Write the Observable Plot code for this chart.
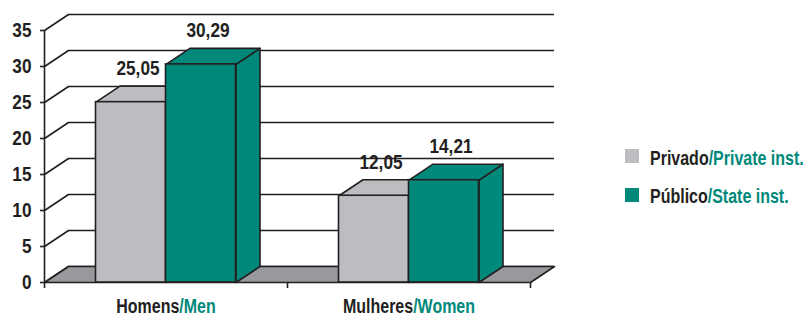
<!DOCTYPE html>
<html><head><meta charset="utf-8">
<script src="https://cdn.jsdelivr.net/npm/d3@7"></script>
<script src="https://cdn.jsdelivr.net/npm/@observablehq/plot@0.6"></script>
<style>
body{margin:0;background:#fff;}
#wrap{position:relative;width:806px;height:317px;font-family:"Liberation Sans",Arial,sans-serif;font-weight:bold;}
.leg{position:absolute;font-size:19.5px;line-height:20px;color:#231f20;white-space:nowrap;transform:scaleX(0.82);transform-origin:0 0;}
.sw{position:absolute;width:14px;height:14px;}
</style></head><body><div id="wrap"></div>
<script>
const categories = ["Homens/Men", "Mulheres/Women"];
const seriesNames = ["Privado/Private inst.", "Público/State inst."];
const privado = [25.05, 12.05];
const publico = [30.29, 14.21];
const yTicks = [0, 5, 10, 15, 20, 25, 30, 35];

const DARK = "#231f20", TEAL = "#00897b";
const colors = ["#bcbdc1", "#00897b"];
const FLOOR = "#98999c";
const FONT = '"Liberation Sans", Arial, sans-serif';
const CONDENSE = 0.82;   // horizontal squeeze to imitate a condensed face

const W = 806, H = 317, mL = 44, mR = 276, mT = 30, mB = 35;
const xPer = (W - mL - mR) / categories.length;
const yPer = (H - mT - mB) / 35;
const DX = 24 / xPer, DY = 16 / yPer;   // 3D depth in data units
const BW = 70 / xPer;                  // bar width in data units

const fmt = v => d3.format(".2f")(v).replace(".", ",");
const poly = (pts, fill) => Plot.line(pts.concat([pts[0]]).map(([x, y]) => ({x, y})),
  {x: "x", y: "y", fill, stroke: DARK, strokeWidth: 1.6, strokeLinejoin: "round", curve: "linear"});

const marks = [];
marks.push(Plot.ruleY(yTicks, {y: d => d + DY, x1: DX, x2: categories.length + DX, stroke: DARK, strokeWidth: 1.6, strokeOpacity: 1}));
marks.push(Plot.link(yTicks, {x1: 0, y1: d => d, x2: DX, y2: d => d + DY, stroke: DARK, strokeWidth: 1.6, strokeOpacity: 1}));
marks.push(poly([[0, 0], [categories.length, 0], [categories.length + DX, DY], [DX, DY]], FLOOR));
marks.push(Plot.ruleX([0], {y1: 0, y2: 35, stroke: DARK, strokeWidth: 1.6, strokeOpacity: 1}));
marks.push(Plot.axisY({ticks: yTicks, tickSize: 4, tickPadding: 9, stroke: DARK, strokeWidth: 1.6, strokeOpacity: 1, fontSize: 21, fill: DARK, label: null}));
marks.push(Plot.axisX({ticks: [0, 1, 2], tickSize: 6, tickFormat: () => "", stroke: DARK, strokeWidth: 1.6, strokeOpacity: 1, label: null}));

const labels = [];
categories.forEach((c, i) => {
  const cx = i + 0.5;
  [privado[i], publico[i]].forEach((v, s) => {
    const x1 = s === 0 ? cx - BW : cx, x2 = s === 0 ? cx : cx + BW;
    marks.push(poly([[x2, 0], [x2 + DX, DY], [x2 + DX, v + DY], [x2, v]], colors[s]));
    marks.push(poly([[x1, v], [x2, v], [x2 + DX, v + DY], [x1 + DX, v + DY]], colors[s]));
    marks.push(Plot.rect([{x1, x2, v}], {x1: "x1", x2: "x2", y1: 0, y2: "v", fill: colors[s], stroke: DARK, strokeWidth: 1.6}));
    labels.push({x: (x1 + x2) / 2, y: v + DY, t: fmt(v)});
  });
});
marks.push(Plot.text(labels, {x: "x", y: "y", text: "t", dx: 7, dy: -11, lineAnchor: "bottom", fontSize: 21, fill: DARK}));
marks.push(Plot.text(categories, {x: (d, i) => i + 0.5, y: 0, text: d => d, dy: 30, lineAnchor: "bottom", fontSize: 19.5, fill: DARK}));

const svg = Plot.plot({
  width: W, height: H, marginLeft: mL, marginRight: mR, marginTop: mT, marginBottom: mB,
  x: {type: "linear", domain: [0, categories.length]},
  y: {type: "linear", domain: [0, 35]},
  style: {fontFamily: FONT, fontWeight: "bold", fontSize: "21px", color: DARK, background: "white"},
  marks
});

const ns = "http://www.w3.org/2000/svg";
svg.querySelectorAll("text").forEach(t => {
  const s = t.textContent, k = s.indexOf("/");
  if (k >= 0) {
    t.textContent = "";
    const a = document.createElementNS(ns, "tspan"); a.textContent = s.slice(0, k); a.setAttribute("fill", DARK);
    const b = document.createElementNS(ns, "tspan"); b.textContent = s.slice(k); b.setAttribute("fill", TEAL);
    t.append(a, b);
  }
  const ax = parseFloat(t.getAttribute("x") || 0);
  const tr = t.getAttribute("transform") || "";
  t.setAttribute("transform", `${tr} translate(${ax},0) scale(${CONDENSE},1) translate(${-ax},0)`.trim());
});
const wrap = document.getElementById("wrap");
wrap.appendChild(svg);
svg.style.position = "absolute"; svg.style.left = "0"; svg.style.top = "0";

const swTops = [149, 188];
const txTops = [147.5, 186];
seriesNames.forEach((n, i) => {
  const sw = document.createElement("div");
  sw.className = "sw"; sw.style.left = "625px"; sw.style.top = swTops[i] + "px"; sw.style.background = colors[i];
  wrap.appendChild(sw);
  const k = n.indexOf("/");
  const tx = document.createElement("div");
  tx.className = "leg"; tx.style.left = "650px"; tx.style.top = txTops[i] + "px";
  const a = document.createElement("span"); a.textContent = n.slice(0, k);
  const b = document.createElement("span"); b.textContent = n.slice(k); b.style.color = TEAL;
  tx.append(a, b);
  wrap.appendChild(tx);
});
</script></body></html>
